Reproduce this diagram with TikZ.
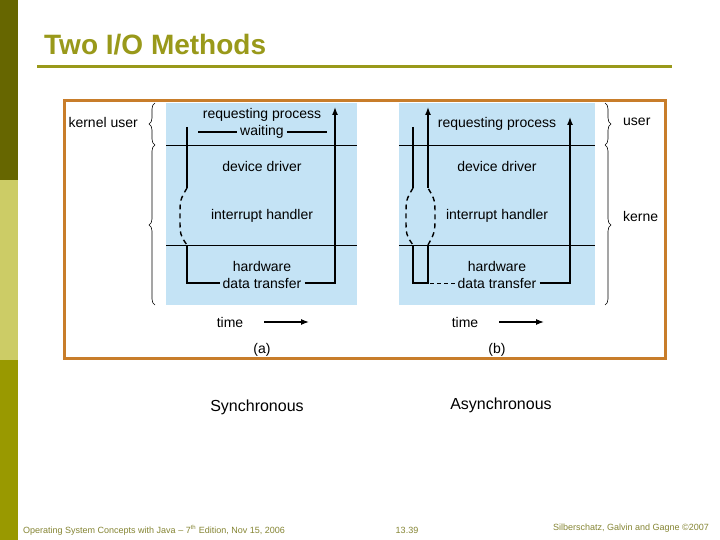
\documentclass[tikz,border=0pt]{standalone}
\usepackage{fontspec}
\setmainfont{Liberation Sans}
\usetikzlibrary{arrows.meta,decorations.pathreplacing}
\definecolor{olive1}{HTML}{666600}
\definecolor{olive2}{HTML}{CCCC66}
\definecolor{olive3}{HTML}{999900}
\definecolor{titlec}{HTML}{99991A}
\definecolor{frame}{HTML}{C87D2A}
\definecolor{panel}{HTML}{C4E3F5}
\begin{document}
\begin{tikzpicture}[x=1pt,y=-1pt,
  lbl/.style={font=\fontsize{14}{16}\selectfont, inner sep=3pt},
  flow/.style={line width=1.4pt},
  arr/.style={line width=1.4pt,-{Latex[length=8pt,width=6pt]}},
  dsh/.style={line width=1.4pt,dash pattern=on 5pt off 4pt},
  brc/.style={decorate,decoration={brace,amplitude=6pt},line width=0.6pt}]
\useasboundingbox (0,0) rectangle (720,540);
\fill[white] (0,0) rectangle (720,540);
\fill[olive1] (0,0) rectangle (18,180);
\fill[olive2] (0,180) rectangle (18,360);
\fill[olive3] (0,360) rectangle (18,540);
\node[anchor=west,text=titlec,font=\fontsize{28}{30}\selectfont\bfseries,inner sep=0] (title) at (44,45) {Two I/O Methods};
\draw[titlec,line width=3pt] (37,67) -- (672,67);
\draw[frame,line width=3pt] (64,101) rectangle (665,358);
% panel a
\fill[panel] (166,103) rectangle (357,305);
\draw[line width=0.6pt] (166,145) -- (357,145) (166,245) -- (357,245);
\node[lbl] (rp) at (262,115) {requesting process};
\node[lbl] (wt) at (262,132) {waiting};
\node[lbl] (dd) at (262,166) {device driver};
\node[lbl] (ih) at (262,216) {interrupt handler};
\node[lbl] (hw) at (262,266) {hardware};
\node[lbl] (dt) at (262,283) {data transfer};
\draw[flow] (198,132) -- (wt.west) (wt.east) -- (327,132);
\draw[flow] (187,127) -- (187,188) (187,245) -- (187,283) -- (dt.west);
\draw[dsh] (187,188) .. controls (180,200) .. (180,216) .. controls (180,235) .. (187,245);
\draw[arr] (dt.east) -- (335,283) -- (335,107);
\node[lbl] (tma) at (230,322) {time};
\draw[arr,line width=1.2pt] (264,322) -- (309,322);
\node[lbl] (la) at (262,350) {(a)};
\draw[brc] (155,145) -- (155,103);
\draw[brc] (155,305) -- (155,145);
\node[lbl,anchor=east] (ku) at (141,122) {kernel user};
% panel b
\fill[panel] (399,103) rectangle (595,305);
\draw[line width=0.6pt] (399,145) -- (595,145) (399,245) -- (595,245);
\node[lbl] (rp2) at (497,124) {requesting process};
\node[lbl] (dd2) at (497,166) {device driver};
\node[lbl] (ih2) at (497,216) {interrupt handler};
\node[lbl] (hw2) at (497,266) {hardware};
\node[lbl] (dt2) at (497,283) {data transfer};
\draw[flow] (413,127) -- (413,188) (413,245) -- (413,283) -- (428,283) -- (428,245);
\draw[dsh] (413,188) .. controls (406,200) .. (406,216) .. controls (406,235) .. (413,245);
\draw[dsh] (428,245) .. controls (435,232) .. (435,216) .. controls (435,200) .. (428,188);
\draw[arr] (428,188) -- (428,107);
\draw[line width=1pt,dash pattern=on 4pt off 3pt] (430,283) -- (dt2.west);
\draw[arr] (dt2.east) -- (570,283) -- (570,117);
\node[lbl] (tmb) at (465,322) {time};
\draw[arr,line width=1.2pt] (499,322) -- (544,322);
\node[lbl] (lb) at (497,350) {(b)};
\draw[brc] (605,103) -- (605,145);
\draw[brc] (605,145) -- (605,305);
\node[lbl,anchor=west] (us) at (620,122) {user};
\node[lbl,anchor=west] (ke) at (620,216) {kerne};
% captions
\node[font=\fontsize{16}{18}\selectfont] (sy) at (257,407) {Synchronous};
\node[font=\fontsize{16}{18}\selectfont] (as) at (501,405) {Asynchronous};
% footer
\node[anchor=west,text=olive1!80,font=\fontsize{9}{10}\selectfont,inner sep=0] (f1) at (23,530) {Operating System Concepts with Java -- 7\textsuperscript{th} Edition, Nov 15, 2006};
\node[text=olive1!80,font=\fontsize{9}{10}\selectfont,inner sep=0] (f2) at (407,530) {13.39};
\node[anchor=east,text=olive1!80,font=\fontsize{9}{10}\selectfont,inner sep=0] (f3) at (709,528) {Silberschatz, Galvin and Gagne \textcopyright2007};
\end{tikzpicture}
\end{document}
